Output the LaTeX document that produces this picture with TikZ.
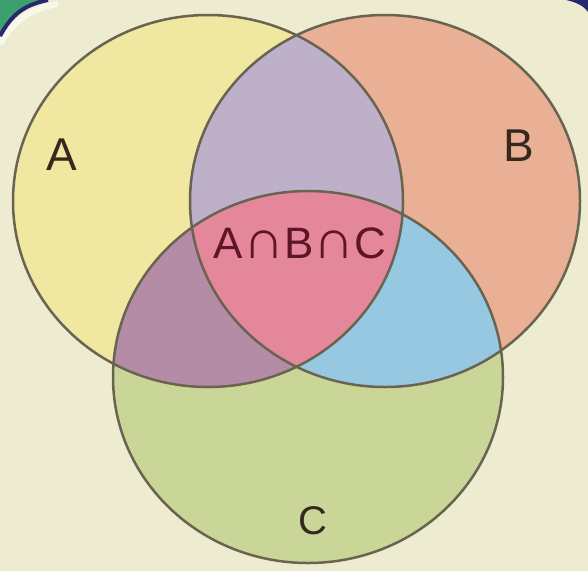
\documentclass[tikz,border=0pt]{standalone}
\usepackage{fontspec}
\usepackage{graphicx}
\setmainfont{Liberation Sans}
\usetikzlibrary{positioning}
\definecolor{cream}{RGB}{237,236,208}
\definecolor{framegreen}{RGB}{60,160,110}
\definecolor{navy}{RGB}{40,40,110}
\definecolor{rimline}{RGB}{105,100,80}
\definecolor{ink}{RGB}{55,40,30}
\definecolor{maroon}{RGB}{95,20,40}
\definecolor{fillA}{RGB}{240,231,160}
\definecolor{fillB}{RGB}{234,176,150}
\definecolor{fillC}{RGB}{201,214,152}
\definecolor{fillAB}{RGB}{190,176,200}
\definecolor{fillAC}{RGB}{180,140,165}
\definecolor{fillBC}{RGB}{150,200,225}
\definecolor{fillABC}{RGB}{228,135,155}
\newcommand{\vennA}{(208,201) ellipse [x radius=195pt, y radius=186pt]}
\newcommand{\vennB}{(385,201) ellipse [x radius=195pt, y radius=186pt]}
\newcommand{\vennC}{(308,377) ellipse [x radius=195pt, y radius=186pt]}
\newcommand{\bigcapsym}{\scalebox{1.3}[1.25]{∩}}

\begin{document}
\begin{tikzpicture}[x=1pt,y=-1pt,
    rim/.style={draw=rimline,line width=2.5pt},
    lbl/.style={text=ink,font=\fontsize{46}{50}\selectfont}]
  \useasboundingbox (0,0) rectangle (588,571);
  \clip (0,0) rectangle (588,571);
  % background and frame corners
  \fill[cream] (0,0) rectangle (588,571);
  \fill[framegreen] (0,0) -- (0,36) .. controls (12,14) and (24,5) .. (48,0) -- cycle;
  \draw[white,opacity=.6,line width=6pt] (0,44) .. controls (14,20) and (30,9) .. (58,4);
  \draw[navy,line width=4pt] (0,36) .. controls (12,14) and (24,5) .. (48,0);
  \fill[navy] (588,0) -- (566,0) .. controls (576,2) and (584,6) .. (588,12) -- cycle;
  % sets
  \fill[fillA] \vennA;
  \fill[fillB] \vennB;
  \fill[fillC] \vennC;
  \begin{scope}
    \clip \vennA;
    \fill[fillAB] \vennB;
    \fill[fillAC] \vennC;
  \end{scope}
  \begin{scope}
    \clip \vennB;
    \fill[fillBC] \vennC;
  \end{scope}
  \begin{scope}
    \clip \vennA;
    \clip \vennB;
    \fill[fillABC] \vennC;
  \end{scope}
  \foreach \s in {\vennA,\vennB,\vennC}
    \draw[rim] \s;
  % labels
  \node[lbl] (labA) at (62,155) {A};
  \node[lbl] (labB) at (519,146) {B};
  \node[lbl,font=\fontsize{40}{44}\selectfont] (labC) at (313,521) {C};
  \node[lbl,text=maroon,font=\fontsize{44}{48}\selectfont] (labABC) at (300,243) {A\bigcapsym B\bigcapsym C};
\end{tikzpicture}
\end{document}
